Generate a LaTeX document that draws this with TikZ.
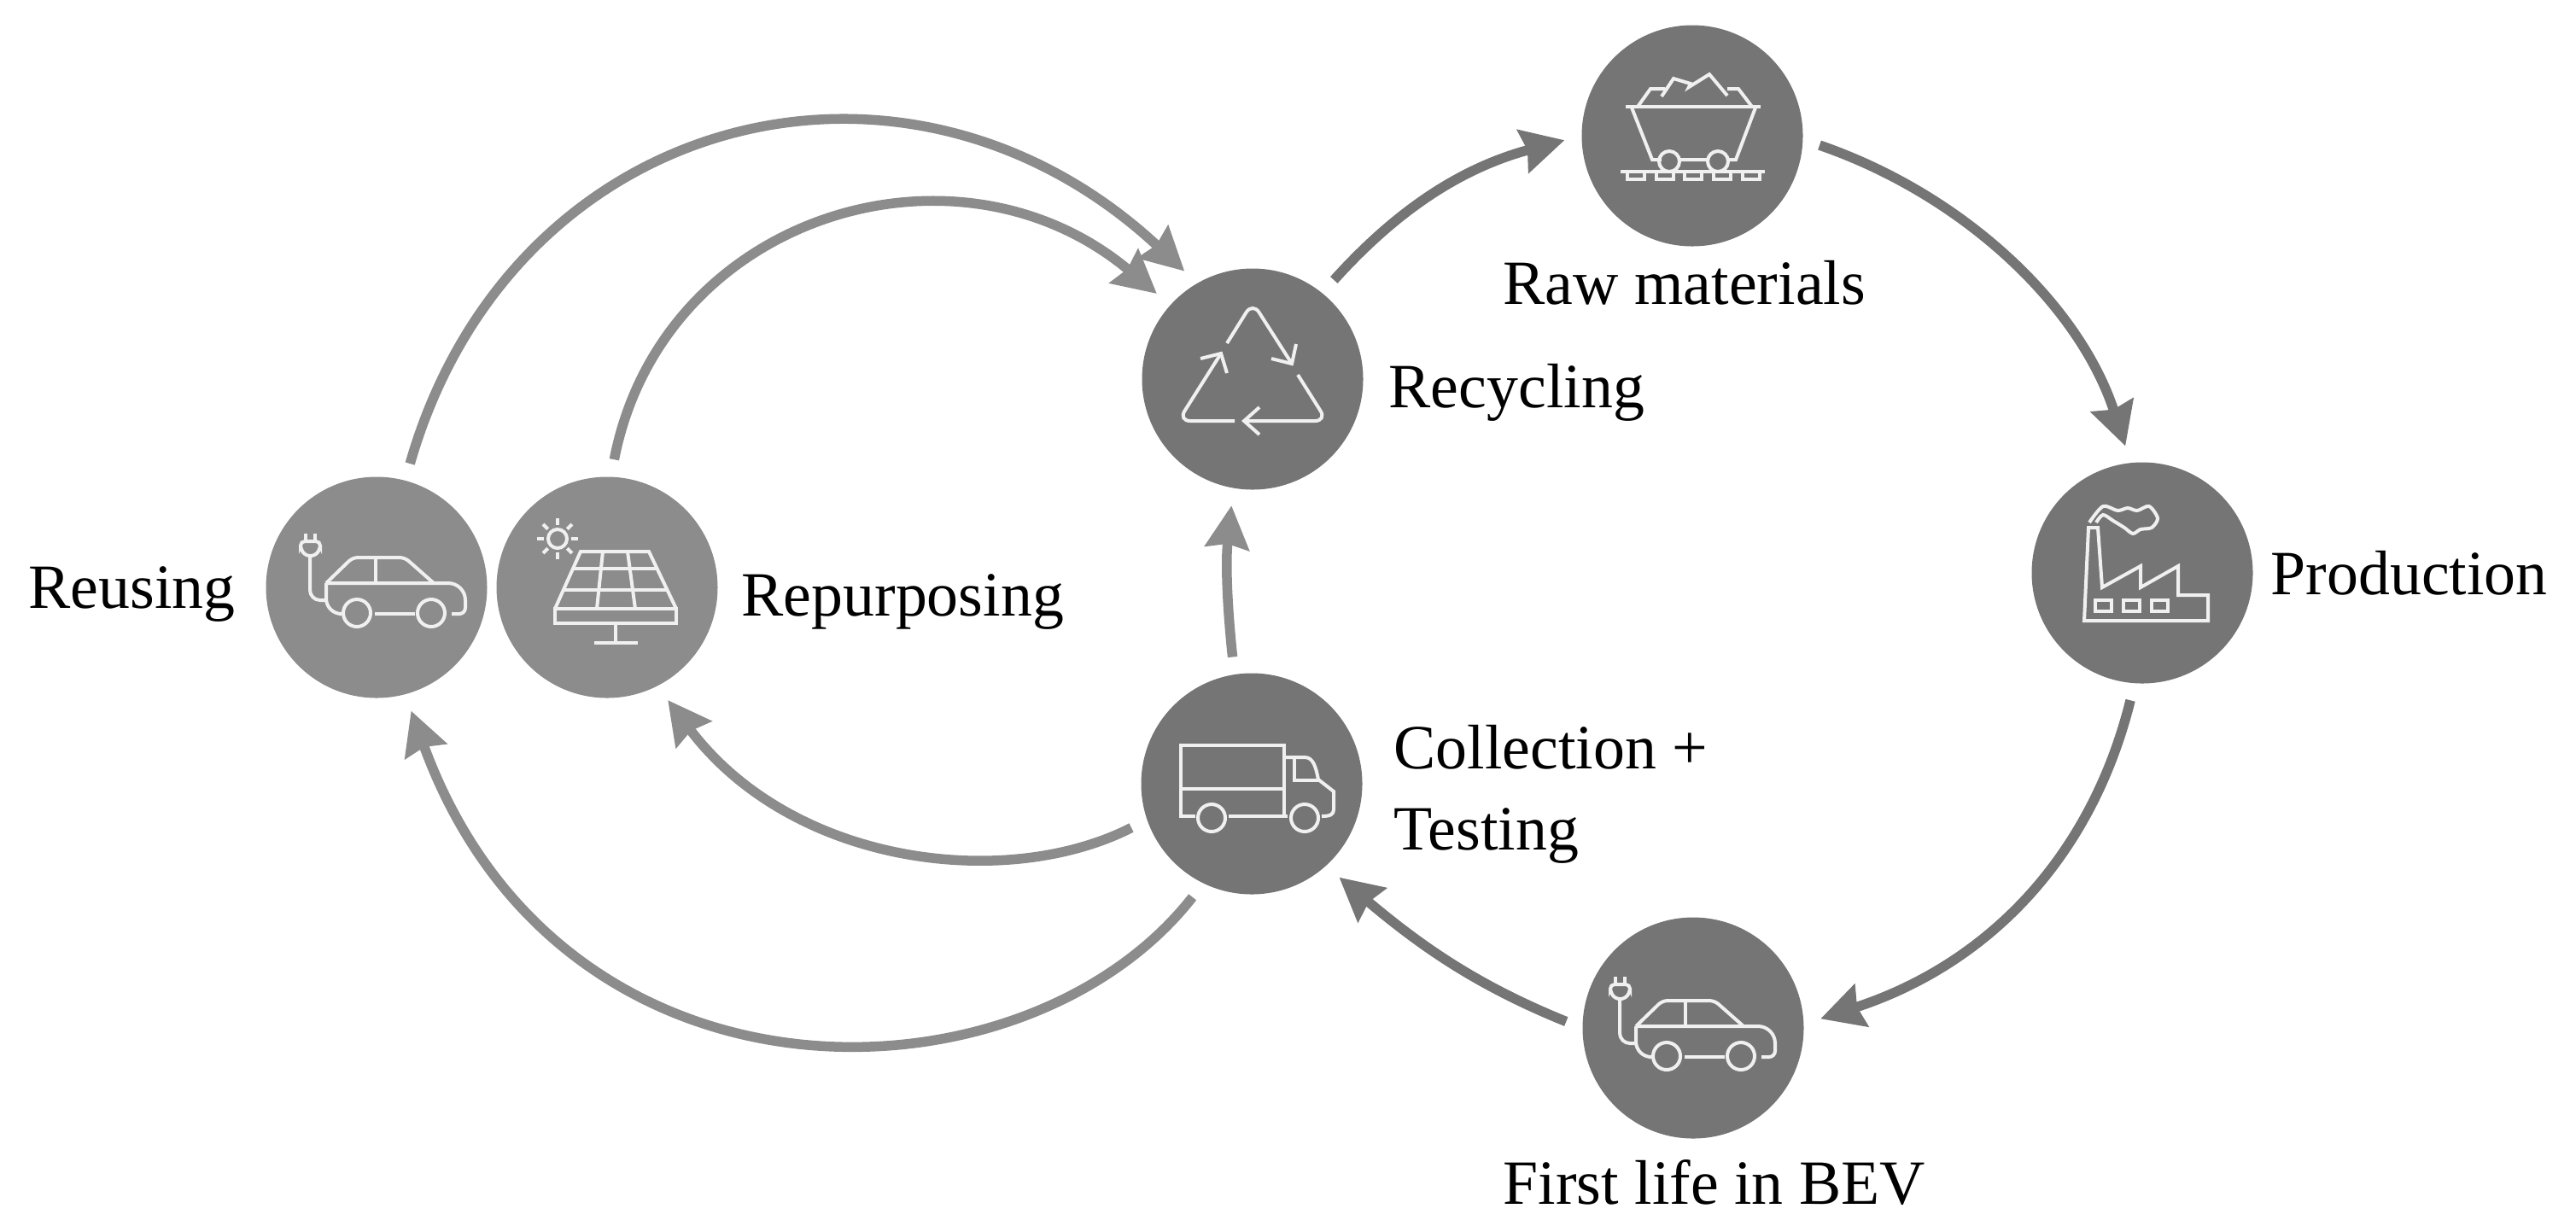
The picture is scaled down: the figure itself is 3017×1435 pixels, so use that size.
\documentclass[tikz,border=0pt]{standalone}
\usepackage{fontspec}
\setmainfont{Liberation Serif}
\usetikzlibrary{arrows.meta}

\definecolor{dark disc}{HTML}{757575}
\definecolor{light disc}{HTML}{8C8C8C}
\definecolor{icon line}{HTML}{F0F0F0}

\begin{document}
\begin{tikzpicture}[
        %We work in pixels of the reference
        x=0.1mm, y=0.1mm,
        station/.style={circle, minimum size=25.9mm, inner sep=0pt, fill=dark disc},
        light station/.style={station, fill=light disc},
        label text/.style={inner sep=0pt, anchor=base west, font=\fontsize{21}{27}\selectfont},
        flow/.style={line width=1.15mm, draw=dark disc, shorten <=2mm, shorten >=2mm,
                     -{Stealth[length=5mm, width=5.1mm, inset=0.5mm]}},
        light flow/.style={flow, draw=light disc},
        icon/.style={draw=icon line, line width=0.4mm, y=-0.1mm},
        evcar/.pic={
            \draw (-91,-51) -- (-91,-60) (-80,-51) -- (-80,-60);
            \draw[rounded corners=0.5mm] (-97,-51) -- (-74,-51) -- (-74,-42) -- (-80,-34) -- (-91,-34) -- (-97,-42) -- cycle;
            \draw[rounded corners=1.2mm] (-86,-34) -- (-86,18) -- (-67,18);
            \draw[rounded corners=0.6mm] (-67,-2) -- (-36,-32) -- (25,-32) -- (59,-2);
            \draw[rounded corners=2mm] (-67,-2) -- (96,-2) [rounded corners=0.7mm] -- (96,34) -- (80,34);
            \draw (-9,-32) -- (-9,-2);
            \draw[rounded corners=1.8mm] (-67,-2) -- (-67,34) -- (-52,34);
            \draw (-31,33) circle (16) (56,33) circle (16);
            \draw (-10,34) -- (37,34);
        },
        solarpanel/.pic={
            \draw (-58,-57) circle (11);
            \foreach \ray in {0,45,...,315}
                \draw (-58,-57) ++(\ray:16) -- ++(\ray:8);
            \draw (-61,25) -- (-31,-42) -- (49,-42) -- (81,25);
            \draw (-61,25) rectangle (81,42);
            \draw (-40,-22) -- (59,-22) (-50,3) -- (70,3);
            \draw (-5,-42) -- (-12,25) (24,-42) -- (33,25);
            \draw (10,42) -- (10,65) (-15,65) -- (36,65);
        },
        recycle/.pic={
            \draw[rounded corners=1.4mm] (-30,-42) -- (0,-90) -- (46,-18);
            \draw (51,-41) -- (46,-18) -- (22,-24);
            \draw[rounded corners=1.4mm] (53,-5) -- (87,49) -- (-10,49);
            \draw (8,33) -- (-10,49) -- (8,65);
            \draw[rounded corners=1.4mm] (-21,49) -- (-87,49) -- (-37,-30);
            \draw (-61,-24) -- (-37,-30) -- (-30,-7);
        },
        minecart/.pic={
            \draw (-78,-34) -- (80,-34);
            \draw (-71,-33) -- (-47,28) -- (-36,28) (-15,28) -- (18,28) (41,28) -- (51,28) -- (74,-33);
            \draw (-27,30) circle (12) (30,30) circle (12);
            \draw (-84,42) -- (85,42);
            \foreach \tie in {-76,-42,-9,25,59}
                \draw (\tie,42) -- (\tie,51) -- ++(20,0) -- ++(0,-9);
            \draw (-64,-34) -- (-49,-55) -- (-32,-55);
            \draw (-36,-46) -- (-22,-67) -- (-2,-61) -- (-4,-57) -- (20,-72) -- (41,-47);
            \draw (41,-55) -- (54,-55) -- (70,-34);
        },
        factory/.pic={
            \draw (-68,56) -- (-63,-53) -- (-52,-53) -- (-47,17) -- (-2,-8) -- (-2,17) -- (42,-8)
                -- (42,26) -- (77,26) -- (77,56) -- cycle;
            \foreach \win in {-55,-22,11}
                \draw (\win,32) rectangle ++(19,13);
            % smoke
            \draw plot[smooth] coordinates {(-62,-59) (-46,-78) (-29,-73) (-17,-76) (-6,-73) (8,-78)
                (18,-64) (11,-53) (-2,-51) (-11,-46) (-21,-53) (-34,-61) (-46,-68) (-54,-59)};
        },
        truck/.pic={
            \draw (-66,38) -- (-83,38) -- (-83,-45) -- (38,-45) -- (38,38);
            \draw (-83,6) -- (38,6);
            \draw (-27,38) -- (42,38);
            \draw (-47,40) circle (16) (62,40) circle (16);
            \draw (38,-31) -- (62,-31) .. controls (72,-31) and (75,-20) .. (78,-5) -- (96,9) -- (96,30)
                .. controls (96,36) and (92,38) .. (82,38);
            \draw (50,-31) -- (50,-4) -- (78,-4);
        }
]
    \useasboundingbox (0,0) rectangle (3017,-1435);

    % stations
    \node[station] (recycling) at (1467,-444) {};
    \node[station] (raw) at (1982,-159) {};
    \node[station] (production) at (2509,-671) {};
    \node[station] (bev) at (1983,-1204) {};
    \node[station] (collection) at (1466,-918) {};
    \node[light station] (reusing) at (441,-688) {};
    \node[light station] (repurposing) at (711,-688) {};

    % icons
    \pic[icon] at (recycling) {recycle};
    \pic[icon] at (raw) {minecart};
    \pic[icon] at (production) {factory};
    \pic[icon] at (bev) {evcar};
    \pic[icon] at (collection) {truck};
    \pic[icon, shift={(8,-3)}] at (reusing) {evcar};
    \pic[icon] at (repurposing) {solarpanel};

    % labels
    \node[label text] (reusing text) at (33,-712) {Reusing};
    \node[label text] (repurposing text) at (868,-721) {Repurposing};
    \node[label text] (recycling text) at (1626,-477) {Recycling};
    \node[label text] (raw text) at (1760,-356) {Raw materials};
    \node[label text] (production text) at (2659,-696) {Production};
    \node[label text] (collection text) at (1632,-900) {Collection +};
    \node[label text] (testing text) at (1632,-995) {Testing};
    \node[label text] (bev text) at (1760,-1410) {First life in BEV};

    % outer loop
    \draw[flow] (recycling.51) to[out=48, in=195, looseness=1] (raw.180);
    \draw[flow] (raw.-2) to[out=-19, in=108, out distance=19.8mm, in distance=19.4mm] (production.96);
    \draw[flow] (production.266) to[out=-104, in=18, out distance=21.7mm, in distance=21.9mm] (bev.2);
    \draw[flow] (bev.180) to[out=158, in=-40, looseness=1] (collection.-48);

    % back to recycling
    \draw[light flow] (collection.99) to[out=96, in=-96, looseness=1] (recycling.260);
    \draw[light flow] (collection.199) to[out=207, in=-53, out distance=18.4mm, in distance=26.3mm] (repurposing.-63);
    \draw[light flow] (collection.244) to[out=232, in=-70, out distance=33.9mm, in distance=53.6mm] (reusing.-75);
    \draw[light flow] (reusing.75) to[out=74, in=137, out distance=45mm, in distance=46.6mm] (recycling.120);
    \draw[light flow] (repurposing.88) to[out=79, in=140, out distance=31.2mm, in distance=32.6mm] (recycling.138);
\end{tikzpicture}
\end{document}
